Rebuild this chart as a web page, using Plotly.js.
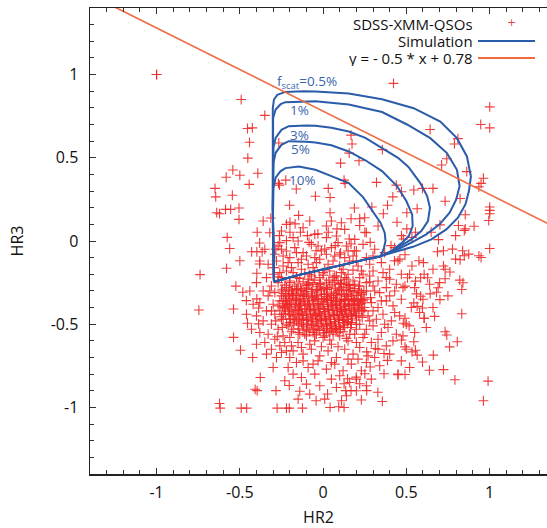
<!DOCTYPE html>
<html><head><meta charset="utf-8">
<script src="https://cdn.plot.ly/plotly-3.0.1.min.js"></script>
<style>html,body{margin:0;padding:0;background:#fff;}#plot{width:547px;height:528px;}</style>
</head><body><div id="plot"></div>
<script>
// ---- SDSS-XMM QSO points [HR2, HR3] ----
const qsoOutliers = [
[-1.0,1.0],[-1.0,1.0],[0.423,0.947],[-0.492,0.850],[-0.350,0.755],[-0.454,0.676],[-0.425,0.680],[-0.442,0.593],
[-0.452,0.498],[-0.542,0.427],[-0.582,0.383],[-0.500,0.395],[-0.392,0.407],[-0.444,0.340],[-0.649,0.316],[-0.645,0.265],
[-0.545,0.275],[-0.639,0.170],[-0.622,0.164],[-0.586,0.190],[-0.555,0.190],[-0.505,0.198],[-0.505,0.130],[-0.576,0.022],
[-0.561,-0.045],[-0.500,-0.119],[-0.580,-0.164],[-0.739,-0.202],[-0.746,-0.415],[-0.396,0.053],[-0.381,-0.012],
[-0.429,-0.065],[-0.398,-0.065],[-0.366,-0.065],[-0.381,-0.138],[-0.398,-0.194],[-0.524,-0.271],[-0.482,-0.308],
[-0.461,-0.358],[-0.398,-0.348],[-0.538,-0.409],[-0.387,-0.403],[-0.454,-0.494],[-0.387,-0.498],[-0.538,-0.579],
[-0.496,-0.656],[-0.423,-0.700],[-0.377,-0.820],[-0.408,-0.891],[-0.396,-0.899],[-0.622,-0.976],[-0.618,-1.004],
[-0.492,-1.004],[-0.459,-1.004],[-0.276,-1.004],[-0.220,-1.004],[-0.203,-1.004],[-0.124,-1.004],[-0.283,-0.899],
[-0.203,-0.868],[-0.140,-0.903],[-0.042,-0.960],[0.027,-0.919],[0.042,-1.000],[0.094,-0.996],[0.126,-1.000],
[0.111,-0.960],[0.168,-0.899],[0.230,-0.955],[0.356,-0.964],[0.329,-0.909],[0.262,-0.899],[0.450,-0.804],[0.492,-0.802],
[0.366,-0.798],[0.639,-0.777],[0.723,-0.773],[0.792,-0.834],[0.991,-0.842],[0.963,-0.960],[0.806,-0.605],[0.760,-0.636],
[0.733,-0.545],[0.743,-0.565],[0.670,-0.453],[0.607,-0.464],[0.833,-0.437],[0.662,-0.686],[0.597,-0.727],[0.534,-0.666],
[1.001,0.806],[1.001,0.680],[0.947,0.700],[0.643,0.670],[0.810,0.615],[0.789,0.583],[0.743,0.494],[0.712,0.457],
[0.863,0.417],[0.963,0.377],[0.949,0.346],[0.936,0.326],[1.001,0.204],[1.001,0.184],[1.001,0.164],[0.995,0.123],
[1.001,-0.045],[0.733,0.239],[0.823,0.255],[0.854,0.158],[0.813,0.093],[0.854,0.073],[0.848,0.063],[0.907,0.089],
[0.796,0.032],[0.660,0.316],[0.597,0.316],[0.545,0.306],[0.565,0.194],[0.503,0.170],[0.444,0.113],[0.702,0.097],
[0.649,0.053],[0.693,0.008],[0.687,-0.065],[0.723,-0.059],[0.777,-0.049],[0.838,-0.059],[0.848,-0.089],[0.796,-0.109],
[0.823,-0.113],[0.875,-0.079],[0.936,-0.089],[0.949,-0.099],[0.723,-0.150],[0.733,-0.170],[0.660,-0.170],[0.628,-0.221],
[0.762,-0.186],[0.821,-0.235],[0.833,-0.291],[0.840,-0.251],[0.733,-0.227],[0.691,-0.281],[0.681,-0.308],[0.702,-0.352],
[0.643,-0.318],[0.586,-0.332],[0.561,-0.318],[0.545,-0.372],[0.565,-0.393],[0.586,-0.221],[0.607,-0.200],[0.555,-0.241],
[0.492,-0.271],[0.507,-0.221],[0.534,-0.150],[0.576,-0.119],[0.603,-0.130],[0.461,-0.109],[0.429,-0.119],[0.492,-0.083],
[0.597,-0.403],[0.607,-0.464],[0.517,-0.510],[0.492,-0.464],[0.482,-0.494],[0.471,-0.595],[0.492,-0.636],[0.545,-0.605],
[0.555,-0.656],[0.565,-0.686],[0.366,-0.676],[0.387,-0.717],[0.314,-0.646],[0.262,-0.666],[0.283,-0.757],[0.251,-0.798],
[0.199,-0.818],[0.220,-0.858],[0.147,-0.828],[0.126,-0.858],[0.136,-0.899]
];
const qsoInner = [
[0.157,0.528],[0.105,0.468],[0.168,0.636],[0.174,0.583],[0.216,0.482],[0.356,0.549],[0.321,0.352],[0.126,0.366],
[0.132,0.346],[0.031,0.316],[0.042,0.261],[-0.046,0.269],[-0.161,0.312],[-0.224,0.366],[-0.268,0.346],[-0.262,0.336],
[-0.266,0.589],[-0.201,0.215],[-0.147,0.154],[0.042,0.170],[0.188,0.198],[0.220,0.134],[0.168,0.134],[0.293,0.204],
[0.362,0.164],[0.387,0.215],[0.419,0.265],[0.471,0.296],[0.440,0.336],[0.503,0.073],[0.555,0.053],[0.534,0.022],
[0.471,0.032],[0.482,0.012],[0.408,-0.028],[0.283,-0.008],[0.251,0.053],[0.220,0.093],[0.157,0.012],[0.188,-0.059],
[0.168,-0.018],[0.084,0.073],[0.031,0.053],[-0.031,0.043],[-0.094,0.032],[-0.136,0.053],[-0.199,0.053],[-0.168,0.103],
[-0.199,0.113],[-0.314,0.138],[-0.262,0.032],[-0.220,0.002],[-0.283,-0.049],[-0.084,-0.008],[-0.042,-0.059],
[0.010,-0.049],[0.073,-0.028],[0.105,-0.071]
];
const qsoMiddle = [
[-0.28,-0.12],[-0.24,-0.15],[-0.20,-0.10],[-0.15,-0.13],[-0.10,-0.09],[-0.06,-0.16],[-0.02,-0.11],[0.03,-0.14],
[0.07,-0.09],[0.12,-0.17],[0.16,-0.12],[0.21,-0.15],[0.26,-0.10],[0.30,-0.18],[0.35,-0.13],[0.40,-0.17],
[-0.26,-0.19],[-0.18,-0.19],[-0.08,-0.20],[0.00,-0.19],[0.08,-0.21],[0.15,-0.20],[0.22,-0.22],[0.28,-0.21],[0.33,-0.24],
[-0.27,-0.03],[-0.22,-0.06],[-0.17,-0.04],[-0.12,-0.07],[-0.07,-0.02],[-0.01,-0.06],[0.05,-0.04],[0.10,-0.08],
[0.14,-0.03],[0.20,-0.06],[0.24,-0.02],[0.31,-0.05],[0.37,-0.07],[0.43,-0.04],
[-0.25,0.06],[-0.18,0.02],[-0.12,0.08],[-0.05,0.04],[0.02,0.09],[0.08,0.03],[0.13,0.07],[0.19,0.01],[0.26,0.05],
[0.33,0.09],[-0.22,0.10],[0.05,0.12],
[-0.34,-0.22],[-0.31,-0.27],[-0.27,-0.25],[-0.33,-0.33],[-0.29,-0.31],[-0.25,-0.30],[-0.30,-0.38],[-0.26,-0.36],
[-0.34,-0.42],[-0.29,-0.44],[-0.25,-0.47],[-0.31,-0.50],[-0.27,-0.53],[-0.33,-0.56],[-0.29,-0.59],[-0.24,-0.57],
[-0.26,-0.63],[-0.31,-0.65],[-0.22,-0.66],[-0.28,-0.70],[-0.36,-0.48],[-0.38,-0.55],[-0.35,-0.61],
[0.22,-0.27],[0.26,-0.30],[0.30,-0.27],[0.34,-0.31],[0.38,-0.28],[0.43,-0.30],[0.24,-0.35],[0.29,-0.37],[0.33,-0.40],
[0.38,-0.36],[0.42,-0.39],[0.47,-0.35],[0.23,-0.42],[0.27,-0.45],[0.32,-0.47],[0.36,-0.44],[0.41,-0.48],[0.46,-0.45],
[0.22,-0.50],[0.26,-0.53],[0.30,-0.51],[0.35,-0.55],[0.39,-0.52],[0.44,-0.56],[0.24,-0.58],[0.29,-0.61],[0.33,-0.59],
[0.38,-0.63],[0.42,-0.60],[0.50,-0.50],[0.48,-0.57],
[-0.20,-0.58],[-0.15,-0.61],[-0.10,-0.57],[-0.05,-0.60],[0.00,-0.58],[0.05,-0.62],[0.10,-0.57],[0.15,-0.60],[0.19,-0.56],
[-0.18,-0.66],[-0.12,-0.68],[-0.07,-0.65],[-0.02,-0.69],[0.03,-0.66],[0.08,-0.70],[0.13,-0.65],[0.18,-0.68],[0.22,-0.64],
[-0.16,-0.73],[-0.09,-0.76],[-0.03,-0.72],[0.02,-0.77],[0.07,-0.74],[0.12,-0.78],[0.17,-0.74],[0.21,-0.71],[0.27,-0.69],
[-0.21,-0.76],[-0.13,-0.82],[-0.05,-0.80],[0.05,-0.83],[0.10,-0.81],[0.16,-0.85],[0.23,-0.78],[-0.23,-0.84],[-0.02,-0.87],
[0.20,-0.90],[-0.08,-0.92],[0.01,-0.95],[0.29,-0.83],[0.34,-0.75],[0.31,-0.70],
[-0.25,-0.22],[-0.20,-0.25],[-0.23,-0.40],[-0.24,-0.44],[-0.22,-0.50],[-0.18,-0.53],[-0.14,-0.56],[0.08,-0.53],
[0.13,-0.52],[0.17,-0.49],[0.20,-0.45],[0.22,-0.38],[0.23,-0.31],[0.19,-0.26],[0.14,-0.23],[0.06,-0.22],[-0.02,-0.22],
[-0.09,-0.23],[-0.16,-0.22],[0.18,-0.36],[0.25,-0.40],[0.20,-0.53],[0.16,-0.56],[-0.04,-0.56],[0.02,-0.55],[-0.20,-0.47],
[0.26,-0.25],[0.11,-0.26],
[-0.40,-0.25],[-0.44,-0.30],[-0.42,-0.38],[-0.46,-0.44],[-0.40,-0.62],[-0.43,-0.53],[-0.38,-0.12],[-0.35,-0.05],
[-0.32,0.05],[-0.36,0.12],
[0.52,-0.20],[0.55,-0.28],[0.60,-0.35],[0.64,-0.26],[0.58,-0.43],[0.53,-0.40],[0.66,-0.40],[0.70,-0.25],[0.75,-0.33],
[0.62,-0.52],[0.55,-0.55],[0.50,-0.65],[0.47,-0.72],[0.52,-0.76],[0.45,-0.80],
[-0.29,-0.08],[-0.26,-0.01],[-0.21,-0.13],[-0.13,-0.17],[-0.04,-0.13],[0.01,-0.17],[0.06,-0.12],[0.10,-0.15],
[0.18,-0.09],[0.23,-0.18],[-0.24,-0.09],[-0.16,-0.07],[-0.09,-0.14],[-0.19,-0.16],[0.13,-0.10],[-0.03,-0.03],
[0.09,-0.01],[0.15,-0.06],[0.28,-0.14],[0.36,-0.19],[0.40,-0.23],[0.45,-0.12],[0.47,-0.20],[0.44,-0.26]
];
const qsoRing = [
[-0.295,-0.16],[-0.27,-0.215],[-0.31,-0.42],[-0.285,-0.48],[-0.245,-0.52],[-0.275,-0.575],[-0.23,-0.61],[-0.19,-0.63],
[-0.13,-0.64],[-0.08,-0.62],[-0.01,-0.635],[0.04,-0.595],[0.09,-0.635],[0.14,-0.585],[0.2,-0.61],[0.25,-0.56],
[0.28,-0.48],[0.3,-0.42],[0.285,-0.34],[0.31,-0.3],[0.28,-0.245],[0.24,-0.2],[0.18,-0.175],[0.11,-0.19],[0.04,-0.18],
[-0.05,-0.185],[-0.11,-0.195],[-0.22,-0.18],[-0.3,-0.2],[-0.32,-0.3],[-0.27,-0.39],[0.35,-0.36],[0.37,-0.5],[0.33,-0.65],
[0.26,-0.73],[0.15,-0.71],[0.05,-0.73],[-0.06,-0.74],[-0.12,-0.72],[-0.2,-0.7],[-0.25,-0.67],[-0.18,-0.8],[-0.1,-0.86],
[0.08,-0.88],[0.14,-0.93],[-0.15,-0.95],[0.2,-0.83],[0.26,-0.87],[0.4,-0.68],[0.43,-0.43],[0.4,-0.33],[0.48,-0.28],
[0.38,-0.22],[-0.33,-0.14],[-0.36,-0.30],[-0.38,-0.37],[-0.4,-0.45],[-0.34,-0.68],[-0.3,-0.76],[-0.05,-0.1],[0.02,-0.08],
[-0.13,-0.11],[0.2,-0.12],[0.3,-0.09],[-0.25,-0.05],[-0.15,0.0],[0.02,0.02],[0.11,0.11],[-0.08,0.12],[0.25,0.14]
];
const qsoCore = [
[-0.12,-0.245],[-0.05,-0.235],[0.02,-0.248],[0.09,-0.238],
[-0.15,-0.258],[-0.085,-0.262],[-0.015,-0.255],[0.055,-0.26],[0.125,-0.252],
[-0.17,-0.272],[-0.10,-0.268],[-0.03,-0.275],[0.04,-0.27],[0.11,-0.278],[0.16,-0.268],
[-0.185,-0.288],[-0.135,-0.284],[-0.065,-0.29],[0.005,-0.286],[0.075,-0.283],[0.14,-0.29],[0.19,-0.285],
[-0.19,-0.302],[-0.13,-0.298],[-0.07,-0.305],[-0.01,-0.30],[0.05,-0.306],[0.12,-0.299],[0.18,-0.304],
[-0.205,-0.317],[-0.16,-0.313],[-0.10,-0.318],[-0.04,-0.312],[0.02,-0.317],[0.085,-0.314],[0.15,-0.318],[0.21,-0.312],
[-0.21,-0.332],[-0.15,-0.328],[-0.09,-0.335],[-0.04,-0.33],[0.02,-0.334],[0.08,-0.329],[0.14,-0.333],[0.20,-0.328],
[-0.225,-0.347],[-0.18,-0.343],[-0.12,-0.348],[-0.065,-0.344],[-0.01,-0.346],[0.05,-0.343],[0.11,-0.349],[0.17,-0.344],[0.225,-0.348],
[-0.22,-0.362],[-0.16,-0.358],[-0.11,-0.365],[-0.06,-0.36],[0.0,-0.364],[0.05,-0.358],[0.10,-0.363],[0.15,-0.359],[0.21,-0.364],
[-0.235,-0.377],[-0.19,-0.373],[-0.135,-0.378],[-0.085,-0.374],[-0.03,-0.376],[0.025,-0.372],[0.075,-0.378],[0.125,-0.374],[0.18,-0.377],[0.23,-0.373],
[-0.20,-0.392],[-0.14,-0.388],[-0.08,-0.395],[-0.03,-0.39],[0.03,-0.394],[0.08,-0.388],[0.13,-0.393],[0.19,-0.389],
[-0.23,-0.407],[-0.17,-0.403],[-0.11,-0.408],[-0.055,-0.404],[0.0,-0.406],[0.055,-0.403],[0.105,-0.409],[0.16,-0.404],[0.215,-0.407],
[-0.21,-0.422],[-0.15,-0.418],[-0.10,-0.425],[-0.05,-0.42],[0.01,-0.424],[0.06,-0.418],[0.11,-0.423],[0.17,-0.419],
[-0.225,-0.437],[-0.18,-0.433],[-0.125,-0.438],[-0.075,-0.434],[-0.02,-0.436],[0.035,-0.433],[0.085,-0.439],[0.14,-0.434],[0.195,-0.437],
[-0.18,-0.452],[-0.12,-0.448],[-0.06,-0.455],[-0.01,-0.45],[0.04,-0.454],[0.10,-0.448],[0.15,-0.453],
[-0.195,-0.467],[-0.145,-0.463],[-0.09,-0.468],[-0.035,-0.464],[0.015,-0.466],[0.07,-0.463],[0.125,-0.469],[0.175,-0.464],
[-0.16,-0.482],[-0.10,-0.478],[-0.04,-0.485],[0.02,-0.48],[0.07,-0.484],[0.12,-0.478],
[-0.175,-0.497],[-0.13,-0.493],[-0.07,-0.498],[-0.01,-0.494],[0.045,-0.496],[0.095,-0.493],[0.145,-0.498],
[-0.12,-0.512],[-0.06,-0.508],[0.0,-0.515],[0.05,-0.51],[0.10,-0.514],
[-0.145,-0.527],[-0.09,-0.523],[-0.03,-0.528],[0.025,-0.524],[0.075,-0.526],
[-0.08,-0.542],[-0.02,-0.538],[0.04,-0.545]
];
const qsoCoreFill = [
[-0.245,-0.29],[-0.25,-0.33],[-0.26,-0.42],[-0.24,-0.47],[-0.21,-0.51],[-0.19,-0.545],[-0.15,-0.55],[-0.11,-0.56],
[-0.05,-0.565],[0.01,-0.57],[0.06,-0.56],[0.12,-0.545],[0.165,-0.52],[0.20,-0.50],[0.235,-0.46],[0.245,-0.42],
[0.25,-0.35],[0.245,-0.30],[0.215,-0.27],[0.18,-0.24],[0.13,-0.22],[0.07,-0.21],[0.0,-0.205],[-0.07,-0.21],
[-0.14,-0.225],[-0.2,-0.24],[-0.23,-0.265],
[-0.183,-0.318],[-0.117,-0.331],[-0.052,-0.337],[0.008,-0.321],[0.063,-0.341],[0.127,-0.322],[0.187,-0.351],
[-0.204,-0.381],[-0.148,-0.396],[-0.093,-0.381],[-0.017,-0.398],[0.047,-0.381],[0.097,-0.402],[0.152,-0.387],
[0.205,-0.398],[-0.187,-0.421],[-0.131,-0.427],[-0.076,-0.411],[-0.027,-0.428],[0.032,-0.411],[0.083,-0.427],
[0.128,-0.412],[0.183,-0.426],[-0.163,-0.443],[-0.097,-0.458],[-0.047,-0.441],[0.013,-0.457],[0.067,-0.442],
[0.118,-0.458],[0.168,-0.446],[-0.14,-0.474],[-0.071,-0.485],[-0.017,-0.472],[0.043,-0.488],[0.093,-0.471],
[0.15,-0.484],[-0.117,-0.5],[-0.043,-0.515],[0.021,-0.502],[0.073,-0.517],[0.124,-0.506],[-0.1,-0.535],
[-0.06,-0.55],[0.005,-0.535],[0.06,-0.54],[0.105,-0.53],[-0.167,-0.35],[-0.133,-0.365],[-0.043,-0.352],
[0.026,-0.357],[0.083,-0.366],[0.133,-0.351],[-0.097,-0.283],[-0.04,-0.292],[0.022,-0.279],[0.097,-0.29],
[0.163,-0.297],[-0.157,-0.287],[-0.06,-0.25],[0.035,-0.235],[0.105,-0.255],[-0.11,-0.305],[0.065,-0.318]
];
const qsoCoreFill2 = [
[-0.09,-0.253],[-0.02,-0.262],[0.07,-0.248],[0.15,-0.262],
[-0.205,-0.295],[-0.16,-0.292],[-0.1,-0.293],[-0.035,-0.296],[0.025,-0.291],[0.095,-0.297],[0.155,-0.281],[0.215,-0.296],
[-0.225,-0.325],[-0.18,-0.327],[-0.12,-0.322],[-0.065,-0.326],[-0.01,-0.323],[0.05,-0.327],[0.11,-0.321],[0.17,-0.326],[0.23,-0.32],
[-0.2,-0.355],[-0.14,-0.354],[-0.085,-0.356],[-0.03,-0.353],[0.025,-0.351],[0.075,-0.355],[0.13,-0.357],[0.19,-0.355],[0.24,-0.36],
[-0.215,-0.385],[-0.165,-0.383],[-0.11,-0.387],[-0.055,-0.384],[0.005,-0.382],[0.055,-0.39],[0.105,-0.384],[0.16,-0.381],[0.21,-0.385],
[-0.245,-0.395],[-0.2,-0.413],[-0.14,-0.411],[-0.08,-0.416],[-0.025,-0.412],[0.03,-0.419],[0.085,-0.414],[0.135,-0.418],[0.19,-0.413],[0.235,-0.415],
[-0.205,-0.443],[-0.15,-0.441],[-0.1,-0.444],[-0.045,-0.447],[0.01,-0.443],[0.065,-0.447],[0.115,-0.443],[0.17,-0.442],[0.215,-0.45],
[-0.17,-0.473],[-0.12,-0.471],[-0.065,-0.474],[-0.01,-0.477],[0.045,-0.472],[0.095,-0.476],[0.15,-0.472],[0.2,-0.475],
[-0.15,-0.505],[-0.095,-0.503],[-0.03,-0.505],[0.02,-0.509],[0.075,-0.503],[0.125,-0.49],[0.17,-0.5],
[-0.12,-0.535],[-0.055,-0.532],[0.005,-0.552],[0.05,-0.528],[0.09,-0.55],
[-0.24,-0.36],[-0.235,-0.315],[-0.22,-0.28],[-0.25,-0.455],[-0.2,-0.49]
];

// ---- Simulation curves (f_scat) ----
const sim05X = [-0.295,-0.302,-0.302,-0.295,-0.275,-0.226,-0.12,-0.046,0.154,0.354,0.544,0.704,0.804,0.864,0.888,0.876,0.855,0.81,0.74,0.65,0.54,0.44,0.34,0.25,0.05,-0.15,-0.295];
const sim05Y = [-0.245,0.2,0.80,0.850,0.878,0.896,0.900,0.898,0.886,0.852,0.798,0.718,0.618,0.508,0.388,0.30,0.22,0.14,0.07,0.01,-0.035,-0.065,-0.092,-0.112,-0.16,-0.205,-0.245];
const sim1X = [-0.295,-0.302,-0.30,-0.285,-0.255,-0.226,-0.046,0.154,0.354,0.504,0.644,0.744,0.804,0.820,0.80,0.76,0.70,0.62,0.53,0.44,0.34,0.25,0.05,-0.15,-0.295];
const sim1Y = [-0.245,0.2,0.74,0.790,0.822,0.834,0.840,0.820,0.775,0.700,0.618,0.528,0.428,0.33,0.25,0.17,0.10,0.04,-0.01,-0.055,-0.094,-0.112,-0.16,-0.205,-0.245];
const sim3X = [-0.295,-0.302,-0.298,-0.285,-0.25,-0.206,-0.10,-0.046,0.05,0.154,0.254,0.354,0.45,0.513,0.584,0.625,0.642,0.63,0.59,0.53,0.46,0.40,0.34,0.25,0.05,-0.15,-0.295];
const sim3Y = [-0.245,0.2,0.56,0.62,0.668,0.690,0.694,0.692,0.680,0.658,0.62,0.560,0.50,0.445,0.348,0.27,0.20,0.12,0.06,0.01,-0.035,-0.07,-0.094,-0.112,-0.16,-0.205,-0.245];
const sim5X = [-0.295,-0.302,-0.298,-0.285,-0.25,-0.206,-0.10,-0.046,0.05,0.154,0.254,0.354,0.444,0.50,0.535,0.538,0.515,0.475,0.41,0.34,0.25,0.05,-0.15,-0.295];
const sim5Y = [-0.245,0.2,0.47,0.53,0.578,0.600,0.597,0.592,0.575,0.538,0.485,0.420,0.33,0.24,0.16,0.09,0.03,-0.01,-0.06,-0.094,-0.112,-0.16,-0.205,-0.245];
const sim10X = [-0.295,-0.302,-0.298,-0.285,-0.255,-0.226,-0.146,-0.046,0.05,0.154,0.241,0.30,0.345,0.37,0.375,0.365,0.345,0.25,0.05,-0.15,-0.295];
const sim10Y = [-0.245,0.1,0.32,0.38,0.420,0.438,0.448,0.428,0.39,0.348,0.262,0.18,0.11,0.05,0.0,-0.045,-0.094,-0.112,-0.16,-0.205,-0.245];
const simLabels = ['f<sub>scat</sub>=0.5%','1%','3%','5%','10%'];
const simLabelX = [-0.28,-0.142,-0.142,-0.136,-0.124];
const simLabelY = [0.956,0.788,0.641,0.553,0.370];

// ---- cut line y = -0.5 x + 0.78 ----
const cutX = [-1.4, 1.35];
const cutY = [1.48, 0.105];

// ---- axes / legend text ----
const tickVals = [-1,-0.5,0,0.5,1];
const tickText = ['-1','-0.5','0','0.5','1'];
const legendNames = ['SDSS-XMM-QSOs','Simulation','y = - 0.5 * x + 0.78'];

const RED = 'rgba(238,38,38,0.9)';
const BLUE = '#2b5ca9';
const ORANGE = '#f06a3c';
const FONT = '"Open Sans", "Noto Sans", sans-serif';

const allPts = qsoOutliers.concat(qsoInner, qsoMiddle, qsoRing, qsoCore, qsoCoreFill, qsoCoreFill2);
const traces = [];
traces.push({
  x: allPts.map(p=>p[0]), y: allPts.map(p=>p[1]), type:'scatter', mode:'markers',
  marker:{symbol:'cross-thin', size:7, line:{color:RED, width:1.1}, color:RED},
  showlegend:false, hoverinfo:'skip'
});
const simX = [sim05X, sim1X, sim3X, sim5X, sim10X];
const simY = [sim05Y, sim1Y, sim3Y, sim5Y, sim10Y];
for (let i=0;i<simX.length;i++){
  traces.push({x:simX[i], y:simY[i], type:'scatter', mode:'lines',
    line:{color:BLUE, width:2}, showlegend:false, hoverinfo:'skip'});
}
traces.push({x:cutX, y:cutY, type:'scatter', mode:'lines',
  line:{color:ORANGE, width:1.6}, showlegend:false, hoverinfo:'skip'});

// plot area geometry (pixels) for paper conversions
const L=90, T=8, W=457, H=466;
const px2x = p => (p-L)/W, py2y = p => (T+H-p)/H;

const annotations = [];
for (let i=0;i<simLabels.length;i++){
  annotations.push({x:simLabelX[i], y:simLabelY[i], xref:'x', yref:'y', text:simLabels[i],
    showarrow:false, xanchor: i===0?'left':'center', yanchor:'middle', height: i===0?undefined:13, borderpad:0,
    font:{family:FONT, size:13.5, color:'#3b64ae'}});
}
const legY = [23.6, 41, 58];
for (let i=0;i<3;i++){
  annotations.push({x:px2x(474), y:py2y(legY[i]), xref:'paper', yref:'paper', text:legendNames[i],
    showarrow:false, xanchor:'right', yanchor:'middle', height:16, borderpad:0, font:{family:FONT, size:15, color:'#111'}});
}
annotations.push({x:px2x(511), y:py2y(22.5), xref:'paper', yref:'paper', text:'+', showarrow:false,
  xanchor:'center', yanchor:'middle', borderpad:0, font:{family:'DejaVu Sans', size:11, color:RED}});
const shapes = [
  {type:'line', xref:'paper', yref:'paper', x0:px2x(478), x1:px2x(535), y0:py2y(41), y1:py2y(41), line:{color:BLUE, width:2}},
  {type:'line', xref:'paper', yref:'paper', x0:px2x(478), x1:px2x(535), y0:py2y(58), y1:py2y(58), line:{color:ORANGE, width:2}}
];

const axisCommon = {
  tickmode:'array', tickvals:tickVals, ticktext:tickText,
  ticks:'inside', ticklen:6, tickwidth:1, tickcolor:'#333',
  minor:{dtick:0.1, ticks:'inside', ticklen:4, tickwidth:1, tickcolor:'#333', showgrid:false},
  showgrid:false, zeroline:false, showline:true, linecolor:'#222', linewidth:1.5,
  tickfont:{family:FONT, size:16, color:'#111'}
};
const layout = {
  width:547, height:528, autosize:false,
  margin:{l:L, r:547-L-W, t:T, b:528-T-H, pad:0},
  paper_bgcolor:'#fff', plot_bgcolor:'#fff',
  xaxis: Object.assign({}, axisCommon, {range:[-1.4,1.345], mirror:'ticks', ticklabelstandoff:3,
    title:{text:'HR2', font:{family:FONT, size:16, color:'#111'}, standoff:10}}),
  yaxis: Object.assign({}, axisCommon, {range:[-1.4,1.4], mirror:false, ticklabelstandoff:7,
    title:{text:'HR3', font:{family:FONT, size:16, color:'#111'}, standoff:23}}),
  annotations, shapes, showlegend:false
};
Plotly.newPlot('plot', traces, layout, {staticPlot:true, displayModeBar:false});
</script></body></html>
